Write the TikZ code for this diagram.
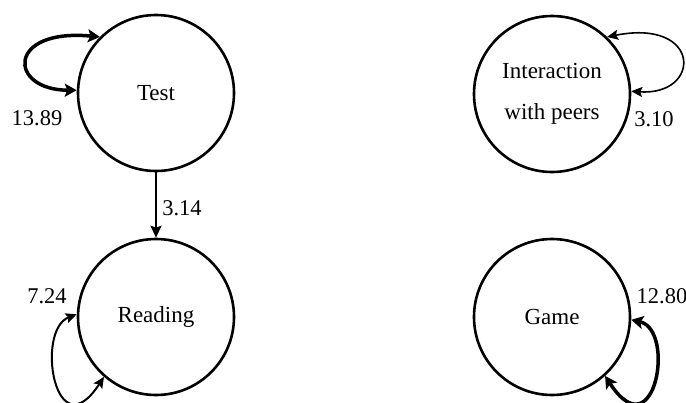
\documentclass[tikz,border=0pt]{standalone}
\usepackage{fontspec}
\setmainfont{Liberation Serif}
\usetikzlibrary{arrows.meta}
\begin{document}
\begin{tikzpicture}[x=1pt,y=-1pt,
  state/.style={circle,draw,line width=2.6pt,minimum size=156pt,inner sep=0pt,
    font=\fontsize{23}{41}\selectfont,align=center},
  lbl/.style={font=\fontsize{22.5}{26}\selectfont,inner sep=0pt},
  bigtip/.tip={Stealth[length=12pt,width=13pt,inset=2.5pt]},
  smalltip/.tip={Stealth[length=11pt,width=10pt,inset=2pt]},
  thickloop/.style={line width=3.5pt,bigtip-bigtip},
  thinloop/.style={line width=1.6pt,smalltip-smalltip},
  midloop/.style={line width=2pt,smalltip-smalltip}
]
\useasboundingbox (0,0) rectangle (686,402);
\clip (0,0) rectangle (686,402);

\node[state] (test) at (156,93) {Test};
\node[state] (read) at (156,317) {Reading};
\node[state] (inter) at (552,94) {Interaction\\with peers};
\node[state] (game) at (552,317) {Game};

% Test self loop
\draw[thickloop] (test.135) .. controls (6,28) and (8,90) .. (test.178);
\node[lbl] (l1389) at (37,118) {13.89};

% Test -> Reading
\draw[line width=2pt,-{Stealth[length=12pt,width=11pt,inset=2pt]}] (test.south) -- (read.north);
\node[lbl] (l314) at (182,208) {3.14};

% Reading self loop
\draw[midloop] (read.178) .. controls (35,330) and (55,452) .. (read.229);
\node[lbl] (l724) at (47,296) {7.24};

% Interaction self loop
\draw[thinloop] (inter.46) .. controls (702,18) and (702,96) .. (inter.2);
\node[lbl] (l310) at (654,119) {3.10};

% Game self loop
\draw[thickloop] (game.358) .. controls (676,330) and (655,452) .. (game.312);
\node[lbl] (l1280) at (662,296) {12.80};
\end{tikzpicture}
\end{document}
